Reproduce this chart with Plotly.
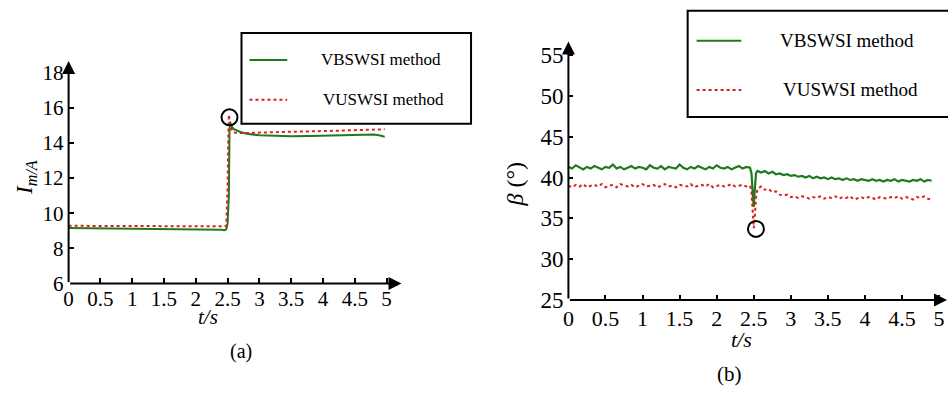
import plotly.graph_objects as go

W, H = 948, 399

# ---------------- data: panel (a) ----------------
ta_green = [0, 0.5, 1, 1.5, 2, 2.3, 2.4, 2.45, 2.48, 2.5, 2.52, 2.53, 2.54, 2.56, 2.6, 2.7, 2.8, 3.0, 3.2, 3.5, 3.8, 4.0, 4.3, 4.6, 4.8, 4.9, 4.97]
ia_green = [9.15, 9.13, 9.12, 9.12, 9.10, 9.08, 9.05, 9.03, 9.08, 9.4, 11.0, 14.6, 15.2, 14.95, 14.78, 14.62, 14.52, 14.43, 14.39, 14.37, 14.39, 14.41, 14.45, 14.48, 14.47, 14.42, 14.35]
ta_red = [0, 0.5, 1, 1.5, 2, 2.4, 2.48, 2.5, 2.51, 2.52, 2.54, 2.58, 2.65, 2.8, 3.0, 3.5, 4.0, 4.5, 4.97]
ia_red = [9.28, 9.27, 9.26, 9.26, 9.25, 9.25, 9.28, 11.5, 14.0, 15.6, 15.0, 14.62, 14.55, 14.57, 14.6, 14.63, 14.67, 14.72, 14.77]

# ---------------- data: panel (b) ----------------
tb = [0.00, 0.05, 0.10, 0.15, 0.20, 0.25, 0.30, 0.35, 0.40, 0.45,
      0.50, 0.55, 0.60, 0.65, 0.70, 0.75, 0.80, 0.85, 0.90, 0.95,
      1.00, 1.05, 1.10, 1.15, 1.20, 1.25, 1.30, 1.35, 1.40, 1.45,
      1.50, 1.55, 1.60, 1.65, 1.70, 1.75, 1.80, 1.85, 1.90, 1.95,
      2.00, 2.05, 2.10, 2.15, 2.20, 2.25, 2.30, 2.35, 2.40, 2.45,
      2.47, 2.49, 2.50, 2.51, 2.53, 2.55,
      2.60, 2.65, 2.70, 2.75, 2.80, 2.85, 2.90, 2.95,
      3.00, 3.05, 3.10, 3.15, 3.20, 3.25, 3.30, 3.35, 3.40, 3.45,
      3.50, 3.55, 3.60, 3.65, 3.70, 3.75, 3.80, 3.85, 3.90, 3.95,
      4.00, 4.05, 4.10, 4.15, 4.20, 4.25, 4.30, 4.35, 4.40, 4.45,
      4.50, 4.55, 4.60, 4.65, 4.70, 4.75, 4.80, 4.85, 4.90]
beta_green = [41.3, 41.1, 41.5, 41.2, 41.0, 41.3, 41.1, 41.4, 41.2, 41.0,
              41.3, 41.2, 41.6, 41.1, 41.3, 41.0, 41.2, 41.4, 41.1, 41.3,
              41.2, 41.0, 41.5, 41.2, 41.1, 41.4, 41.0, 41.3, 41.2, 41.1,
              41.6, 41.2, 41.0, 41.3, 41.1, 41.4, 41.2, 41.0, 41.3, 41.1,
              41.5, 41.2, 41.1, 41.3, 41.0, 41.2, 41.4, 41.1, 41.3, 41.2,
              40.5, 37.5, 36.4, 38.0, 40.5, 40.8,
              40.6, 40.8, 40.5, 40.7, 40.4, 40.5, 40.3, 40.4,
              40.2, 40.3, 40.1, 40.2, 40.0, 40.2, 39.9, 40.1, 39.9, 40.0,
              39.8, 40.0, 39.8, 39.9, 39.7, 39.9, 39.7, 39.8, 39.6, 39.8,
              39.7, 39.6, 39.8, 39.6, 39.7, 39.5, 39.7, 39.6, 39.8, 39.5,
              39.7, 39.6, 39.5, 39.7, 39.6, 39.8, 39.5, 39.7, 39.6]
beta_red = [39.0, 38.8, 39.1, 38.9, 39.2, 38.8, 39.0, 39.1, 38.9, 39.2,
            38.8, 39.0, 39.1, 38.8, 39.2, 39.0, 38.9, 39.1, 38.8, 39.0,
            39.2, 38.9, 39.0, 39.1, 38.8, 39.0, 39.2, 38.9, 39.0, 38.8,
            39.1, 39.0, 38.9, 39.2, 38.8, 39.0, 39.1, 38.9, 39.2, 38.8,
            39.0, 39.1, 38.9, 39.0, 39.2, 38.9, 39.0, 39.1, 38.9, 39.0,
            38.2, 35.5, 33.8, 34.5, 37.5, 38.6,
            38.9, 38.5, 38.6, 38.2, 38.3, 37.9, 37.8, 37.9,
            37.6, 37.7, 37.5, 37.7, 37.6, 37.4, 37.6, 37.5, 37.7, 37.4,
            37.6, 37.5, 37.7, 37.4, 37.6, 37.5, 37.7, 37.3, 37.5, 37.6,
            37.4, 37.6, 37.5, 37.3, 37.6, 37.5, 37.4, 37.6, 37.5, 37.7,
            37.4, 37.6, 37.5, 37.3, 37.6, 37.5, 37.7, 37.4, 37.3]

x_ticks = [0, 0.5, 1, 1.5, 2, 2.5, 3, 3.5, 4, 4.5, 5]
x_ticktext = ["0", "0.5", "1", "1.5", "2", "2.5", "3", "3.5", "4", "4.5", "5"]
ya_ticks = [6, 8, 10, 12, 14, 16, 18]
yb_ticks = [25, 30, 35, 40, 45, 50, 55]
legend_names = ["VBSWSI method", "VUSWSI method"]

GREEN = "#1f7a1f"
RED = "#d91f1c"
SERIF = "Liberation Serif, Times New Roman, serif"

def px(xp):
    return xp / W

def py(yp):
    return 1 - yp / H

fig = go.Figure()
fig.add_trace(go.Scatter(x=ta_green, y=ia_green, mode="lines", line=dict(color=GREEN, width=2),
                         xaxis="x", yaxis="y", showlegend=False))
fig.add_trace(go.Scatter(x=ta_red, y=ia_red, mode="lines", line=dict(color=RED, width=2, dash="dot"),
                         xaxis="x", yaxis="y", showlegend=False))
fig.add_trace(go.Scatter(x=tb, y=beta_green, mode="lines", line=dict(color=GREEN, width=2.2),
                         xaxis="x2", yaxis="y2", showlegend=False))
fig.add_trace(go.Scatter(x=tb, y=beta_red, mode="lines", line=dict(color=RED, width=2, dash="dot"),
                         xaxis="x2", yaxis="y2", showlegend=False))

# pixel geometry of the two panels
XA0, XA5, XA_END = 63, 383, 398
YA6, YA18, YA_TOP = 293, 75, 63
XB0, XB5, XB_END = 566, 939, 947
YB25, YB55, YB_TOP = 310, 57, 43

xa_max = (XA_END - XA0) / ((XA5 - XA0) / 5)
ya_max = 6 + (YA6 - YA_TOP) / ((YA6 - YA18) / 12)
xb_max = (XB_END - XB0) / ((XB5 - XB0) / 5)
yb_max = 25 + (YB25 - YB_TOP) / ((YB25 - YB55) / 30)

axcommon = dict(showgrid=False, zeroline=False, showline=False, ticks="inside", ticklen=5,
                tickwidth=1.5, tickcolor="black", fixedrange=True)

fig.update_layout(
    width=W, height=H, margin=dict(l=0, r=0, t=0, b=0),
    paper_bgcolor="white", plot_bgcolor="white",
    xaxis=dict(domain=[px(XA0), px(XA_END)], range=[0, xa_max], tickvals=x_ticks, ticktext=x_ticktext,
               tickfont=dict(family=SERIF, size=21, color="black"), anchor="y",
               ticklabelstandoff=1, **axcommon),
    yaxis=dict(domain=[py(YA6), py(YA_TOP)], range=[6, ya_max], tickvals=ya_ticks,
               tickfont=dict(family=SERIF, size=21, color="black"), anchor="x",
               ticklabelstandoff=4, **axcommon),
    xaxis2=dict(domain=[px(XB0), px(XB_END)], range=[0, xb_max], tickvals=x_ticks, ticktext=x_ticktext,
                tickfont=dict(family=SERIF, size=22, color="black"), anchor="y2",
                ticklabelstandoff=3, **axcommon),
    yaxis2=dict(domain=[py(YB25), py(YB_TOP)], range=[25, yb_max], tickvals=yb_ticks,
                tickfont=dict(family=SERIF, size=23, color="black"), anchor="x2",
                ticklabelstandoff=4, **axcommon),
)

ann = []
# axis arrows
for xr, yr, x0, y0, x1, y1 in [("x", "y", 0, 6, xa_max, 6), ("x", "y", 0, 6, 0, ya_max),
                               ("x2", "y2", 0, 25, xb_max, 25), ("x2", "y2", 0, 25, 0, yb_max)]:
    ann.append(dict(x=x1, y=y1, ax=x0, ay=y0, xref=xr, yref=yr, axref=xr, ayref=yr,
                    text="", showarrow=True, arrowhead=2, arrowsize=1.3, arrowwidth=2,
                    arrowcolor="black"))

# axis titles and panel labels
def label(x, y, text, size, angle=0):
    return dict(x=px(x), y=py(y), xref="paper", yref="paper", text=text, textangle=angle,
                xanchor="center", yanchor="middle", showarrow=False,
                font=dict(family=SERIF, size=size, color="black"))

ann += [
    label(20, 183, "<i>I</i><sub><i>m/A</i></sub>", 23, -90),
    label(203, 328, "<i>t/s</i>", 21),
    label(236, 363, "(a)", 20),
    label(512, 190, "<i>β</i> (°)", 24, -90),
    label(740, 351, "<i>t/s</i>", 22),
    label(728, 387, "(b)", 21),
]

shapes = []
# legend boxes
legends = [
    dict(box=(237, 34, 468, 128), line_x=(245, 283), rows=(62, 103), text_x=(315, 317), size=17),
    dict(box=(686, 11, 952, 121), line_x=(695, 740), rows=(42, 93), text_x=(777, 780), size=19),
]
for lg in legends:
    x0, y0, x1, y1 = lg["box"]
    shapes.append(dict(type="rect", xref="paper", yref="paper", x0=px(x0), x1=px(x1),
                       y0=py(y1), y1=py(y0), line=dict(color="black", width=2),
                       fillcolor="white", layer="above"))
    for i, (name, col, dash) in enumerate(zip(legend_names, [GREEN, RED], ["solid", "dot"])):
        yy = lg["rows"][i]
        shapes.append(dict(type="line", xref="paper", yref="paper", x0=px(lg["line_x"][0]),
                           x1=px(lg["line_x"][1]), y0=py(yy), y1=py(yy),
                           line=dict(color=col, width=2, dash=dash), layer="above"))
        ann.append(dict(x=px(lg["text_x"][i]), y=py(yy), xref="paper", yref="paper", text=name,
                        xanchor="left", yanchor="middle", showarrow=False,
                        font=dict(family=SERIF, size=lg["size"], color="black")))

# highlight circles
for xr, yr, cx, cy in [("x", "y", 2.53, 15.45), ("x2", "y2", 2.53, 33.7)]:
    shapes.append(dict(type="circle", xref=xr, yref=yr, xsizemode="pixel", ysizemode="pixel",
                       xanchor=cx, yanchor=cy, x0=-8, x1=8, y0=-8, y1=8,
                       line=dict(color="black", width=2)))

fig.update_layout(annotations=ann, shapes=shapes)

post = (
    "var d=document.getElementById('{plot_id}');"
    "d.style.position='fixed';d.style.top='0px';d.style.left='0px';"
    "document.documentElement.style.margin='0';document.documentElement.style.padding='0';"
    "document.documentElement.style.height='399px';document.documentElement.style.overflow='hidden';"
    "document.body.style.margin='0';document.body.style.padding='0';"
    "document.body.style.height='399px';document.body.style.overflow='hidden';"
)
fig.write_html("out.html", config={"displayModeBar": False}, post_script=post)
